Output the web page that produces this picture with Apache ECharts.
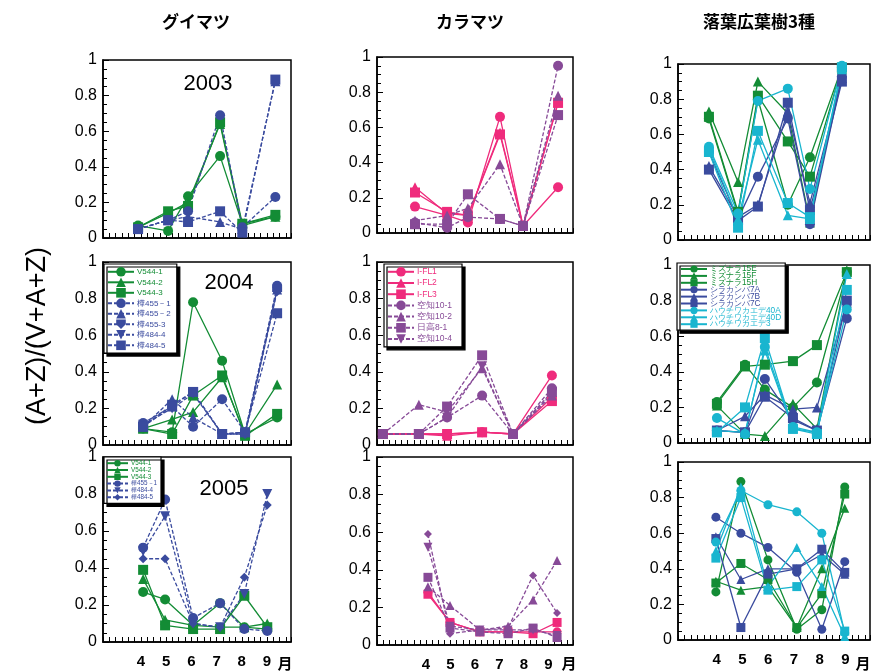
<!DOCTYPE html>
<html><head><meta charset="utf-8">
<script src="https://cdn.jsdelivr.net/npm/echarts@6/dist/echarts.min.js"></script>
<style>html,body{margin:0;padding:0;background:#fff}#c{width:880px;height:672px}</style>
</head><body><div id="c"></div>
<script>
// ================= DATA =================
const monthTicks = [4, 5, 6, 7, 8, 9];
const columnTitles = ['グイマツ', 'カラマツ', '落葉広葉樹3種'];
const yearLabels = ['2003', '2004', '2005'];

// ---- グイマツ (column 1) ----
const gmNames03 = ['V544-1', 'V544-2', 'V544-3', '樺455－1', '樺455－2', '樺484-5'];
const gmDates03 = [3.89, 5.08, 5.87, 7.14, 8.02, 9.33];
const gmVals03 = [
  [0.07, 0.04, 0.235, 0.46, 0.08, 0.12],
  [0.06, 0.14, 0.20, 0.64, 0.07, 0.12],
  [0.06, 0.15, 0.18, 0.65, 0.08, 0.13],
  [0.05, 0.10, 0.15, 0.69, 0.06, 0.23],
  [0.05, 0.10, 0.12, 0.09, 0.05, 0.88],
  [0.05, 0.10, 0.09, 0.15, 0.03, 0.89]
];
const gmNames04 = ['V544-1', 'V544-2', 'V544-3', '樺455－1', '樺455－2', '樺455-3', '樺484-4', '樺484-5'];
const gmDates04 = [4.09, 5.24, 6.07, 7.22, 8.13, 9.40];
const gmVals04 = [
  [0.09, 0.07, 0.78, 0.46, 0.06, 0.15],
  [0.09, 0.14, 0.18, 0.37, 0.06, 0.33],
  [0.09, 0.06, 0.27, 0.38, 0.05, 0.17],
  [0.12, 0.21, 0.10, 0.25, 0.07, 0.87],
  [0.10, 0.25, 0.15, 0.06, 0.07, 0.85],
  [0.10, 0.22, 0.29, 0.06, 0.06, 0.84],
  [0.11, 0.20, 0.28, 0.06, 0.06, 0.85],
  [0.10, 0.21, 0.29, 0.06, 0.07, 0.72]
];
const gmNames05 = ['V544-1', 'V544-2', 'V544-3', '樺455－1', '樺484-4', '樺484-5'];
const gmDates05 = [4.09, 4.96, 6.07, 7.14, 8.10, 9.01];
const gmVals05 = [
  [0.27, 0.23, 0.09, 0.21, 0.08, 0.07],
  [0.34, 0.12, 0.09, 0.08, 0.08, 0.10],
  [0.39, 0.09, 0.07, 0.07, 0.25, 0.08],
  [0.51, 0.77, 0.13, 0.21, 0.07, 0.06],
  [0.49, 0.68, 0.10, 0.08, 0.26, 0.80],
  [0.45, 0.45, 0.10, 0.08, 0.35, 0.74]
];

// ---- カラマツ (column 2) ----
const kmNames03 = ['I-FL1', 'I-FL2', 'I-FL3', '空知10-1', '空知10-2', '日高8-1'];
const kmDates03 = [3.55, 4.86, 5.71, 7.02, 7.96, 9.39];
const kmVals03 = [
  [0.15, 0.10, 0.06, 0.66, 0.04, 0.26],
  [0.26, 0.11, 0.10, 0.57, 0.04, 0.74],
  [0.23, 0.12, 0.10, 0.56, 0.04, 0.74],
  [0.06, 0.03, 0.09, 0.08, 0.04, 0.95],
  [0.07, 0.10, 0.14, 0.39, 0.04, 0.78],
  [0.05, 0.05, 0.22, 0.08, 0.04, 0.67]
];
const kmNames04 = ['I-FL1', 'I-FL2', 'I-FL3', '空知10-1', '空知10-2', '日高8-1', '空知10-4'];
const kmDates04 = [2.24, 3.71, 4.86, 6.29, 7.55, 9.14];
const kmVals04 = [
  [0.06, 0.06, 0.06, 0.07, 0.06, 0.38],
  [0.06, 0.06, 0.05, 0.07, 0.06, 0.26],
  [0.06, 0.06, 0.06, 0.07, 0.06, 0.24],
  [0.06, 0.06, 0.15, 0.27, 0.06, 0.31],
  [0.06, 0.22, 0.18, 0.42, 0.06, 0.27],
  [0.06, 0.06, 0.21, 0.49, 0.06, 0.29],
  [0.06, 0.06, 0.15, 0.43, 0.06, 0.28]
];
const kmNames05 = ['I-FL1', 'I-FL3', '空知10-1', '空知10-2', '日高8-1', '空知10-4'];
const kmDates05 = [4.08, 4.98, 6.20, 7.35, 8.37, 9.35];
const kmVals05 = [
  [0.28, 0.12, 0.07, 0.07, 0.07, 0.07],
  [0.27, 0.12, 0.07, 0.07, 0.06, 0.12],
  [0.59, 0.06, 0.08, 0.09, 0.37, 0.17],
  [0.31, 0.21, 0.08, 0.10, 0.24, 0.45],
  [0.36, 0.09, 0.07, 0.06, 0.09, 0.04],
  [0.52, 0.10, 0.08, 0.08, 0.08, 0.05]
];

// ---- 落葉広葉樹3種 (column 3) ----
const lbNames = ['ミズナラ15E', 'ミズナラ15F', 'ミズナラ15H', 'シラカンバ7A', 'シラカンバ7B', 'シラカンバ7C', 'ハウチワカエデ40A', 'ハウチワカエデ40D', 'ハウチワカエデ3'];
const lbDates03 = [3.70, 4.83, 5.60, 6.76, 7.62, 8.86];
const lbVals03 = [
  [0.69, 0.15, 0.80, 0.20, 0.47, 0.98],
  [0.73, 0.33, 0.90, 0.72, 0.10, 0.97],
  [0.70, 0.16, 0.82, 0.56, 0.36, 0.98],
  [0.50, 0.12, 0.36, 0.69, 0.09, 0.93],
  [0.42, 0.13, 0.20, 0.73, 0.21, 0.92],
  [0.40, 0.11, 0.19, 0.78, 0.17, 0.90],
  [0.53, 0.15, 0.79, 0.86, 0.29, 0.99],
  [0.52, 0.12, 0.57, 0.14, 0.12, 0.97],
  [0.50, 0.07, 0.62, 0.21, 0.13, 0.98]
];
const lbDates04 = [4.01, 5.10, 5.87, 6.96, 7.89, 9.05];
const lbVals04 = [
  [0.23, 0.44, 0.30, 0.20, 0.34, 0.96],
  [0.21, 0.05, 0.04, 0.22, 0.08, 0.97],
  [0.22, 0.43, 0.44, 0.46, 0.55, 0.96],
  [0.07, 0.06, 0.36, 0.13, 0.07, 0.70],
  [0.07, 0.15, 0.27, 0.19, 0.20, 0.79],
  [0.07, 0.06, 0.26, 0.14, 0.07, 0.80],
  [0.14, 0.05, 0.54, 0.09, 0.06, 0.75],
  [0.07, 0.06, 0.52, 0.08, 0.06, 0.95],
  [0.06, 0.20, 0.59, 0.08, 0.05, 0.86]
];
const lbDates05 = [3.97, 4.94, 5.99, 7.11, 8.08, 8.97];
const lbVals05 = [
  [0.27, 0.89, 0.45, 0.06, 0.17, 0.86],
  [0.33, 0.28, 0.30, 0.07, 0.40, 0.74],
  [0.32, 0.43, 0.34, 0.07, 0.26, 0.82],
  [0.69, 0.60, 0.52, 0.38, 0.06, 0.44],
  [0.58, 0.34, 0.40, 0.40, 0.48, 0.37],
  [0.57, 0.07, 0.37, 0.40, 0.51, 0.38],
  [0.55, 0.84, 0.76, 0.72, 0.60, 0.04],
  [0.50, 0.86, 0.30, 0.52, 0.30, 0.02],
  [0.46, 0.80, 0.28, 0.30, 0.45, 0.05]
];

// ================= STYLE =================
const G = '#138c35', B = '#3a4b9e', P = '#ef2b7c', U = '#874a97', C = '#19b5cf';
const SHIELD = 'path://M0,0L10,0L10,6L5,12L0,6Z';
const styleTable = {
  'V544-1': [G, 'circle', false, 0], 'V544-2': [G, 'triangle', false, 0], 'V544-3': [G, 'rect', false, 0],
  '樺455－1': [B, 'circle', true, 0], '樺455－2': [B, 'triangle', true, 0], '樺455-3': [B, SHIELD, true, 0],
  '樺484-4': [B, 'triangle', true, 180], '樺484-5': [B, 'rect', true, 0],
  'I-FL1': [P, 'circle', false, 0], 'I-FL2': [P, 'triangle', false, 0], 'I-FL3': [P, 'rect', false, 0],
  '空知10-1': [U, 'circle', true, 0], '空知10-2': [U, 'triangle', true, 0], '日高8-1': [U, 'rect', true, 0], '空知10-4': [U, 'triangle', true, 180],
  'ミズナラ15E': [G, 'circle', false, 0], 'ミズナラ15F': [G, 'triangle', false, 0], 'ミズナラ15H': [G, 'rect', false, 0],
  'シラカンバ7A': [B, 'circle', false, 0], 'シラカンバ7B': [B, 'triangle', false, 0], 'シラカンバ7C': [B, 'rect', false, 0],
  'ハウチワカエデ40A': [C, 'circle', false, 0], 'ハウチワカエデ40D': [C, 'triangle', false, 0], 'ハウチワカエデ3': [C, 'rect', false, 0]
};

// panel boxes [left, top, width, height]
const boxes = [
  [[103, 60, 188, 178], [377, 57, 196, 176], [678, 64, 192, 176]],
  [[103, 262, 188, 183], [377, 262, 196, 183], [678, 265, 192, 178]],
  [[103, 457, 188, 185], [377, 457, 196, 188], [678, 462, 192, 178]]
];
const xRanges = [[2.5, 9.95], [2, 10], [2.5, 9.95]];

const panels = [
  { r: 0, c: 0, names: gmNames03, dates: gmDates03, vals: gmVals03 },
  { r: 0, c: 1, names: kmNames03, dates: kmDates03, vals: kmVals03 },
  { r: 0, c: 2, names: lbNames, dates: lbDates03, vals: lbVals03 },
  { r: 1, c: 0, names: gmNames04, dates: gmDates04, vals: gmVals04 },
  { r: 1, c: 1, names: kmNames04, dates: kmDates04, vals: kmVals04 },
  { r: 1, c: 2, names: lbNames, dates: lbDates04, vals: lbVals04 },
  { r: 2, c: 0, names: gmNames05, dates: gmDates05, vals: gmVals05, suffix: '\u200b', override: { '樺484-5': 'diamond' } },
  { r: 2, c: 1, names: kmNames05, dates: kmDates05, vals: kmVals05, override: { '空知10-1': 'diamond' } },
  { r: 2, c: 2, names: lbNames, dates: lbDates05, vals: lbVals05 }
];

const grids = [], xAxes = [], yAxes = [], series = [];
panels.forEach((p, idx) => {
  const b = boxes[p.r][p.c];
  grids.push({ left: b[0], top: b[1], width: b[2], height: b[3], show: true, borderColor: '#000', borderWidth: 1.5, backgroundColor: 'transparent' });
  const bottom = p.r === 2;
  xAxes.push({
    type: 'value', gridIndex: idx, min: xRanges[p.c][0], max: xRanges[p.c][1], interval: 0.5,
    axisLine: { lineStyle: { color: '#000', width: 1.5 } },
    axisTick: { inside: true, length: 5, lineStyle: { color: '#000', width: 1 } },
    minorTick: { show: true, splitNumber: 2, length: 5, lineStyle: { color: '#000', width: 1 } },
    splitLine: { show: false },
    axisLabel: {
      show: bottom, margin: 12, color: '#000', fontSize: 15, fontWeight: 'bold', fontFamily: 'Liberation Sans',
      showMinLabel: false, showMaxLabel: false, hideOverlap: false,
      formatter: v => {
        const m = monthTicks.find(t => Math.abs(t - v) < 1e-6);
        return m === undefined ? '' : String(m);
      }
    }
  });
  yAxes.push({
    type: 'value', gridIndex: idx, min: 0, max: 1, interval: 0.2,
    axisLine: { show: true, lineStyle: { color: '#000', width: 1.5 } },
    axisTick: { inside: true, length: 6, lineStyle: { color: '#000', width: 1 } },
    minorTick: { show: true, splitNumber: 4, length: 4, lineStyle: { color: '#000', width: 1 } },
    splitLine: { show: false },
    axisLabel: { margin: 6, color: '#000', fontSize: 16, fontFamily: 'Liberation Sans' }
  });
  const symSize = p.r === 2 && p.c > 0 ? 9 : 10;
  p.names.forEach((nm, k) => {
    const st = styleTable[nm];
    const sym = (p.override && p.override[nm]) || st[1];
    series.push({
      type: 'line', name: nm + (p.suffix || ''), xAxisIndex: idx, yAxisIndex: idx,
      data: p.dates.map((d, i) => [d, p.vals[k][i]]),
      symbol: sym, symbolSize: sym === 'diamond' ? symSize - 1 : symSize, symbolRotate: st[3],
      showAllSymbol: true,
      lineStyle: { color: st[0], width: 1.3, type: st[2] ? [4, 2] : 'solid' },
      itemStyle: { color: st[0] },
      emphasis: { disabled: true }, animation: false
    });
  });
});

function legendFor(names, suffix, left, top, o) {
  return {
    show: true, orient: 'vertical', left: left, top: top, selectedMode: false,
    itemWidth: o.iw, itemHeight: o.ih, itemGap: o.gap, padding: o.pad,
    backgroundColor: '#fff', borderColor: '#000', borderWidth: 1.2, borderRadius: 0,
    shadowColor: '#000', shadowOffsetX: 3, shadowOffsetY: 3, shadowBlur: 0,
    textStyle: { fontSize: o.fs, lineHeight: o.lh, fontFamily: 'Liberation Sans', padding: [0, 0, 0, -2] },
    data: names.map(n => ({ name: n + (suffix || ''), textStyle: { color: styleTable[n][0] } }))
  };
}
const legends = [
  legendFor(gmNames04, '', 104, 264, { iw: 26, ih: 12, gap: 0.9, pad: [3, 6, 3, 3], fs: 8, lh: 9 }),
  legendFor(kmNames04, '', 384, 264, { iw: 26, ih: 12, gap: 1.6, pad: [3, 10, 3, 3], fs: 8.5, lh: 9 }),
  legendFor(lbNames, '', 677, 263, { iw: 26, ih: 9, gap: -1.1, pad: [2, 4, 2, 3], fs: 8.3, lh: 7 }),
  legendFor(gmNames05, '\u200b', 104, 457, { iw: 21, ih: 8, gap: 0.4, pad: [3, 4, 3, 2], fs: 6.3, lh: 6 })
];

const textEls = [];
const titleX = [196, 470, 759];
columnTitles.forEach((t, i) => textEls.push({ type: 'text', x: titleX[i], y: 22, style: { text: t, fill: '#000', font: 'bold 17px "Noto Sans CJK JP"', align: 'center', verticalAlign: 'middle' } }));
const yearPos = [[208, 84], [229, 283], [224, 489]];
yearLabels.forEach((t, i) => textEls.push({ type: 'text', x: yearPos[i][0], y: yearPos[i][1], z: 10, style: { text: t, fill: '#000', font: '22px "Liberation Sans"', align: 'center', verticalAlign: 'middle' } }));
[285, 569, 863].forEach(x => textEls.push({ type: 'text', x: x, y: 663, style: { text: '月', fill: '#000', font: 'bold 15px "Noto Sans CJK JP"', align: 'center', verticalAlign: 'middle' } }));
textEls.push({ type: 'text', x: 38, y: 336, rotation: Math.PI / 2, style: { text: '(A+Z)/(V+A+Z)', fill: '#000', font: '27px "Liberation Sans"', align: 'center', verticalAlign: 'middle' } });

const chart = echarts.init(document.getElementById('c'), null, { renderer: 'canvas' });
chart.setOption({
  animation: false,
  backgroundColor: '#fff',
  grid: grids, xAxis: xAxes, yAxis: yAxes, series: series,
  legend: legends,
  graphic: { elements: textEls }
});
</script></body></html>
